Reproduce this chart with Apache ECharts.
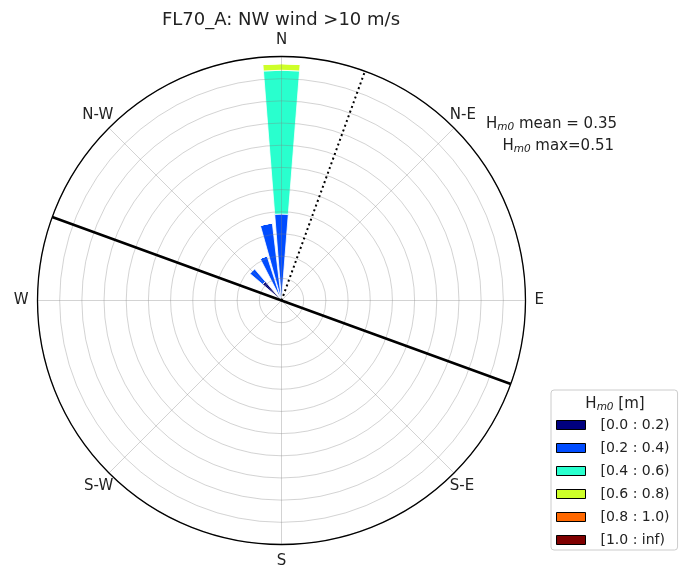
<!DOCTYPE html>
<html>
<head>
<meta charset="utf-8">
<script src="https://cdn.jsdelivr.net/npm/echarts@6/dist/echarts.min.js"></script>
<style>
  html, body { margin: 0; padding: 0; background: #fff; }
  #chart { width: 683px; height: 569px; }
</style>
</head>
<body>
<div id="chart"></div>
<script>
// 32-point compass sectors, clockwise from north
const directions = ['N', 'NbE', 'NNE', 'NEbN', 'NE', 'NEbE', 'ENE', 'EbN',
                    'E', 'EbS', 'ESE', 'SEbE', 'SE', 'SEbS', 'SSE', 'SbE',
                    'S', 'SbW', 'SSW', 'SWbS', 'SW', 'SWbW', 'WSW', 'WbS',
                    'W', 'WbN', 'WNW', 'NWbW', 'NW', 'NWbN', 'NNW', 'NbW'];

// Hm0 classes and their colours
const binNames = ['[0.0 : 0.2)', '[0.2 : 0.4)', '[0.4 : 0.6)', '[0.6 : 0.8)', '[0.8 : 1.0)', '[1.0 : inf)'];
const binColors = ['#00007f', '#004cff', '#29ffce', '#ceff29', '#ff6800', '#7f0000'];

// Frequency (%) per sector for each Hm0 class
const freq_00_02 = [0, 0, 0, 0, 0, 0, 0, 0, 0, 0, 0, 0, 0, 0, 0, 0,
                    0, 0, 0, 0, 0, 0, 0, 0, 0, 0, 0, 0, 5.6, 0, 0, 0];
const freq_02_04 = [19.5, 0, 0, 0, 0, 0, 0, 0, 0, 0, 0, 0, 0, 0, 0, 0,
                    0, 0, 0, 0, 0, 0, 0, 0, 0, 0, 0, 0, 3.8, 0, 10.6, 17.6];
const freq_04_06 = [32.4, 0, 0, 0, 0, 0, 0, 0, 0, 0, 0, 0, 0, 0, 0, 0,
                    0, 0, 0, 0, 0, 0, 0, 0, 0, 0, 0, 0, 0, 0, 0, 0];
const freq_06_08 = [1.5, 0, 0, 0, 0, 0, 0, 0, 0, 0, 0, 0, 0, 0, 0, 0,
                    0, 0, 0, 0, 0, 0, 0, 0, 0, 0, 0, 0, 0, 0, 0, 0];
const freq_08_10 = [0, 0, 0, 0, 0, 0, 0, 0, 0, 0, 0, 0, 0, 0, 0, 0,
                    0, 0, 0, 0, 0, 0, 0, 0, 0, 0, 0, 0, 0, 0, 0, 0];
const freq_10_inf = [0, 0, 0, 0, 0, 0, 0, 0, 0, 0, 0, 0, 0, 0, 0, 0,
                     0, 0, 0, 0, 0, 0, 0, 0, 0, 0, 0, 0, 0, 0, 0, 0];
const binData = [freq_00_02, freq_02_04, freq_04_06, freq_06_08, freq_08_10, freq_10_inf];

// Compass labels
const cardinalLabels = { 0: 'N', 90: 'E', 180: 'S', 270: 'W' };
const diagonalLabels = ['N-E', 'S-E', 'S-W', 'N-W'];

// Reference directions (degrees, clockwise from north)
const coastlineDirs = [290, 110];
const windDir = 20;

// Radial scale (%)
const rMax = 55;
const rStep = 5;

// Summary statistics
const hm0Mean = 0.35;
const hm0Max = 0.51;

const FONT = 'DejaVu Sans';
const CENTER = [281.5, 300.5];
const RADIUS = 244;
const gridColor = 'rgba(130,130,130,0.35)';

const hiddenRadius = (idx) => ({
  polarIndex: idx, type: 'value', min: 0, max: rMax,
  axisLine: { show: false }, axisTick: { show: false },
  axisLabel: { show: false }, splitLine: { show: false }
});

const barSeries = binNames.map((name, i) => ({
  type: 'bar',
  name: name,
  coordinateSystem: 'polar',
  polarIndex: 1,
  stack: 'rose',
  barWidth: '80%',
  data: binData[i],
  z: 2,
  silent: true,
  itemStyle: { color: binColors[i], borderColor: '#fff', borderWidth: 0.8 }
}));

const lineSeries = [
  {
    type: 'line',
    coordinateSystem: 'polar',
    polarIndex: 0,
    data: [[rMax, coastlineDirs[0]], [0, coastlineDirs[0]], [rMax, coastlineDirs[1]]],
    symbol: 'none',
    silent: true,
    z: 6,
    lineStyle: { color: '#000', width: 2.5 }
  },
  {
    type: 'line',
    coordinateSystem: 'polar',
    polarIndex: 0,
    data: [[0, windDir], [rMax, windDir]],
    symbol: 'none',
    silent: true,
    z: 6,
    lineStyle: { color: '#000', width: 2, type: [2, 3] }
  }
];

const richStat = {
  b: { fontSize: 15, fontFamily: FONT, fill: '#222' },
  s: { fontSize: 10.5, fontFamily: FONT, fontStyle: 'italic', fill: '#222', padding: [6, 0, 0, 0] }
};

const option = {
  backgroundColor: '#fff',
  animation: false,
  textStyle: { fontFamily: FONT },
  polar: [
    { center: CENTER, radius: RADIUS },
    { center: CENTER, radius: RADIUS },
    { center: CENTER, radius: RADIUS }
  ],
  angleAxis: [
    {
      polarIndex: 0, type: 'value', min: 0, max: 360, interval: 45,
      startAngle: 90, clockwise: true, z: 3,
      axisLine: { show: true, lineStyle: { color: '#000', width: 1.3 } },
      axisTick: { show: false },
      axisLabel: {
        margin: 9, fontSize: 15, color: '#222', fontFamily: FONT,
        formatter: (v) => cardinalLabels[v] || ''
      },
      splitLine: { show: true, lineStyle: { color: gridColor, width: 1 } }
    },
    {
      polarIndex: 1, type: 'category', data: directions,
      startAngle: 90 + 180 / directions.length, clockwise: true, boundaryGap: true,
      axisLine: { show: false }, axisTick: { show: false },
      axisLabel: { show: false }, splitLine: { show: false }
    },
    {
      polarIndex: 2, type: 'category', data: diagonalLabels,
      startAngle: 90, clockwise: true, boundaryGap: true,
      axisLine: { show: false }, axisTick: { show: false }, splitLine: { show: false },
      axisLabel: { margin: -6, padding: [10, 0, 10, 0], fontSize: 15, color: '#222', fontFamily: FONT }
    }
  ],
  radiusAxis: [
    {
      polarIndex: 0, type: 'value', min: 0, max: rMax, interval: rStep, z: 3,
      axisLine: { show: false }, axisTick: { show: false }, axisLabel: { show: false },
      splitLine: { show: true, lineStyle: { color: gridColor, width: 1 } }
    },
    hiddenRadius(1),
    hiddenRadius(2)
  ],
  legend: {
    orient: 'vertical',
    left: 551, top: 390,
    data: binNames,
    selectedMode: false,
    icon: 'rect',
    itemWidth: 29, itemHeight: 9,
    itemGap: 9,
    padding: [28, 8, 3, 5],
    backgroundColor: '#fff',
    borderColor: '#ccc', borderWidth: 1, borderRadius: 3,
    itemStyle: { borderColor: '#000', borderWidth: 1 },
    textStyle: { fontSize: 14, color: '#222', fontFamily: FONT, padding: [0, 0, 0, 10] }
  },
  graphic: [
    {
      type: 'text', x: 281, y: 20, z: 100, silent: true,
      style: {
        text: 'FL70_A: NW wind >10 m/s', fontSize: 18, fontFamily: FONT, fill: '#222',
        align: 'center', verticalAlign: 'middle'
      }
    },
    {
      type: 'text', x: 617, y: 124, z: 100, silent: true,
      style: {
        text: '{b|H}{s|m0}{b| mean = ' + hm0Mean.toFixed(2) + '}', rich: richStat,
        align: 'right', verticalAlign: 'middle'
      }
    },
    {
      type: 'text', x: 614, y: 146, z: 100, silent: true,
      style: {
        text: '{b|H}{s|m0}{b| max=' + hm0Max.toFixed(2) + '}', rich: richStat,
        align: 'right', verticalAlign: 'middle'
      }
    },
    {
      type: 'text', x: 615, y: 404, z: 100, silent: true,
      style: {
        text: '{b|H}{s|m0}{b| [m]}', rich: richStat,
        align: 'center', verticalAlign: 'middle'
      }
    }
  ],
  series: barSeries.concat(lineSeries)
};

const chart = echarts.init(document.getElementById('chart'), null, { renderer: 'canvas' });
chart.setOption(option);
</script>
</body>
</html>
